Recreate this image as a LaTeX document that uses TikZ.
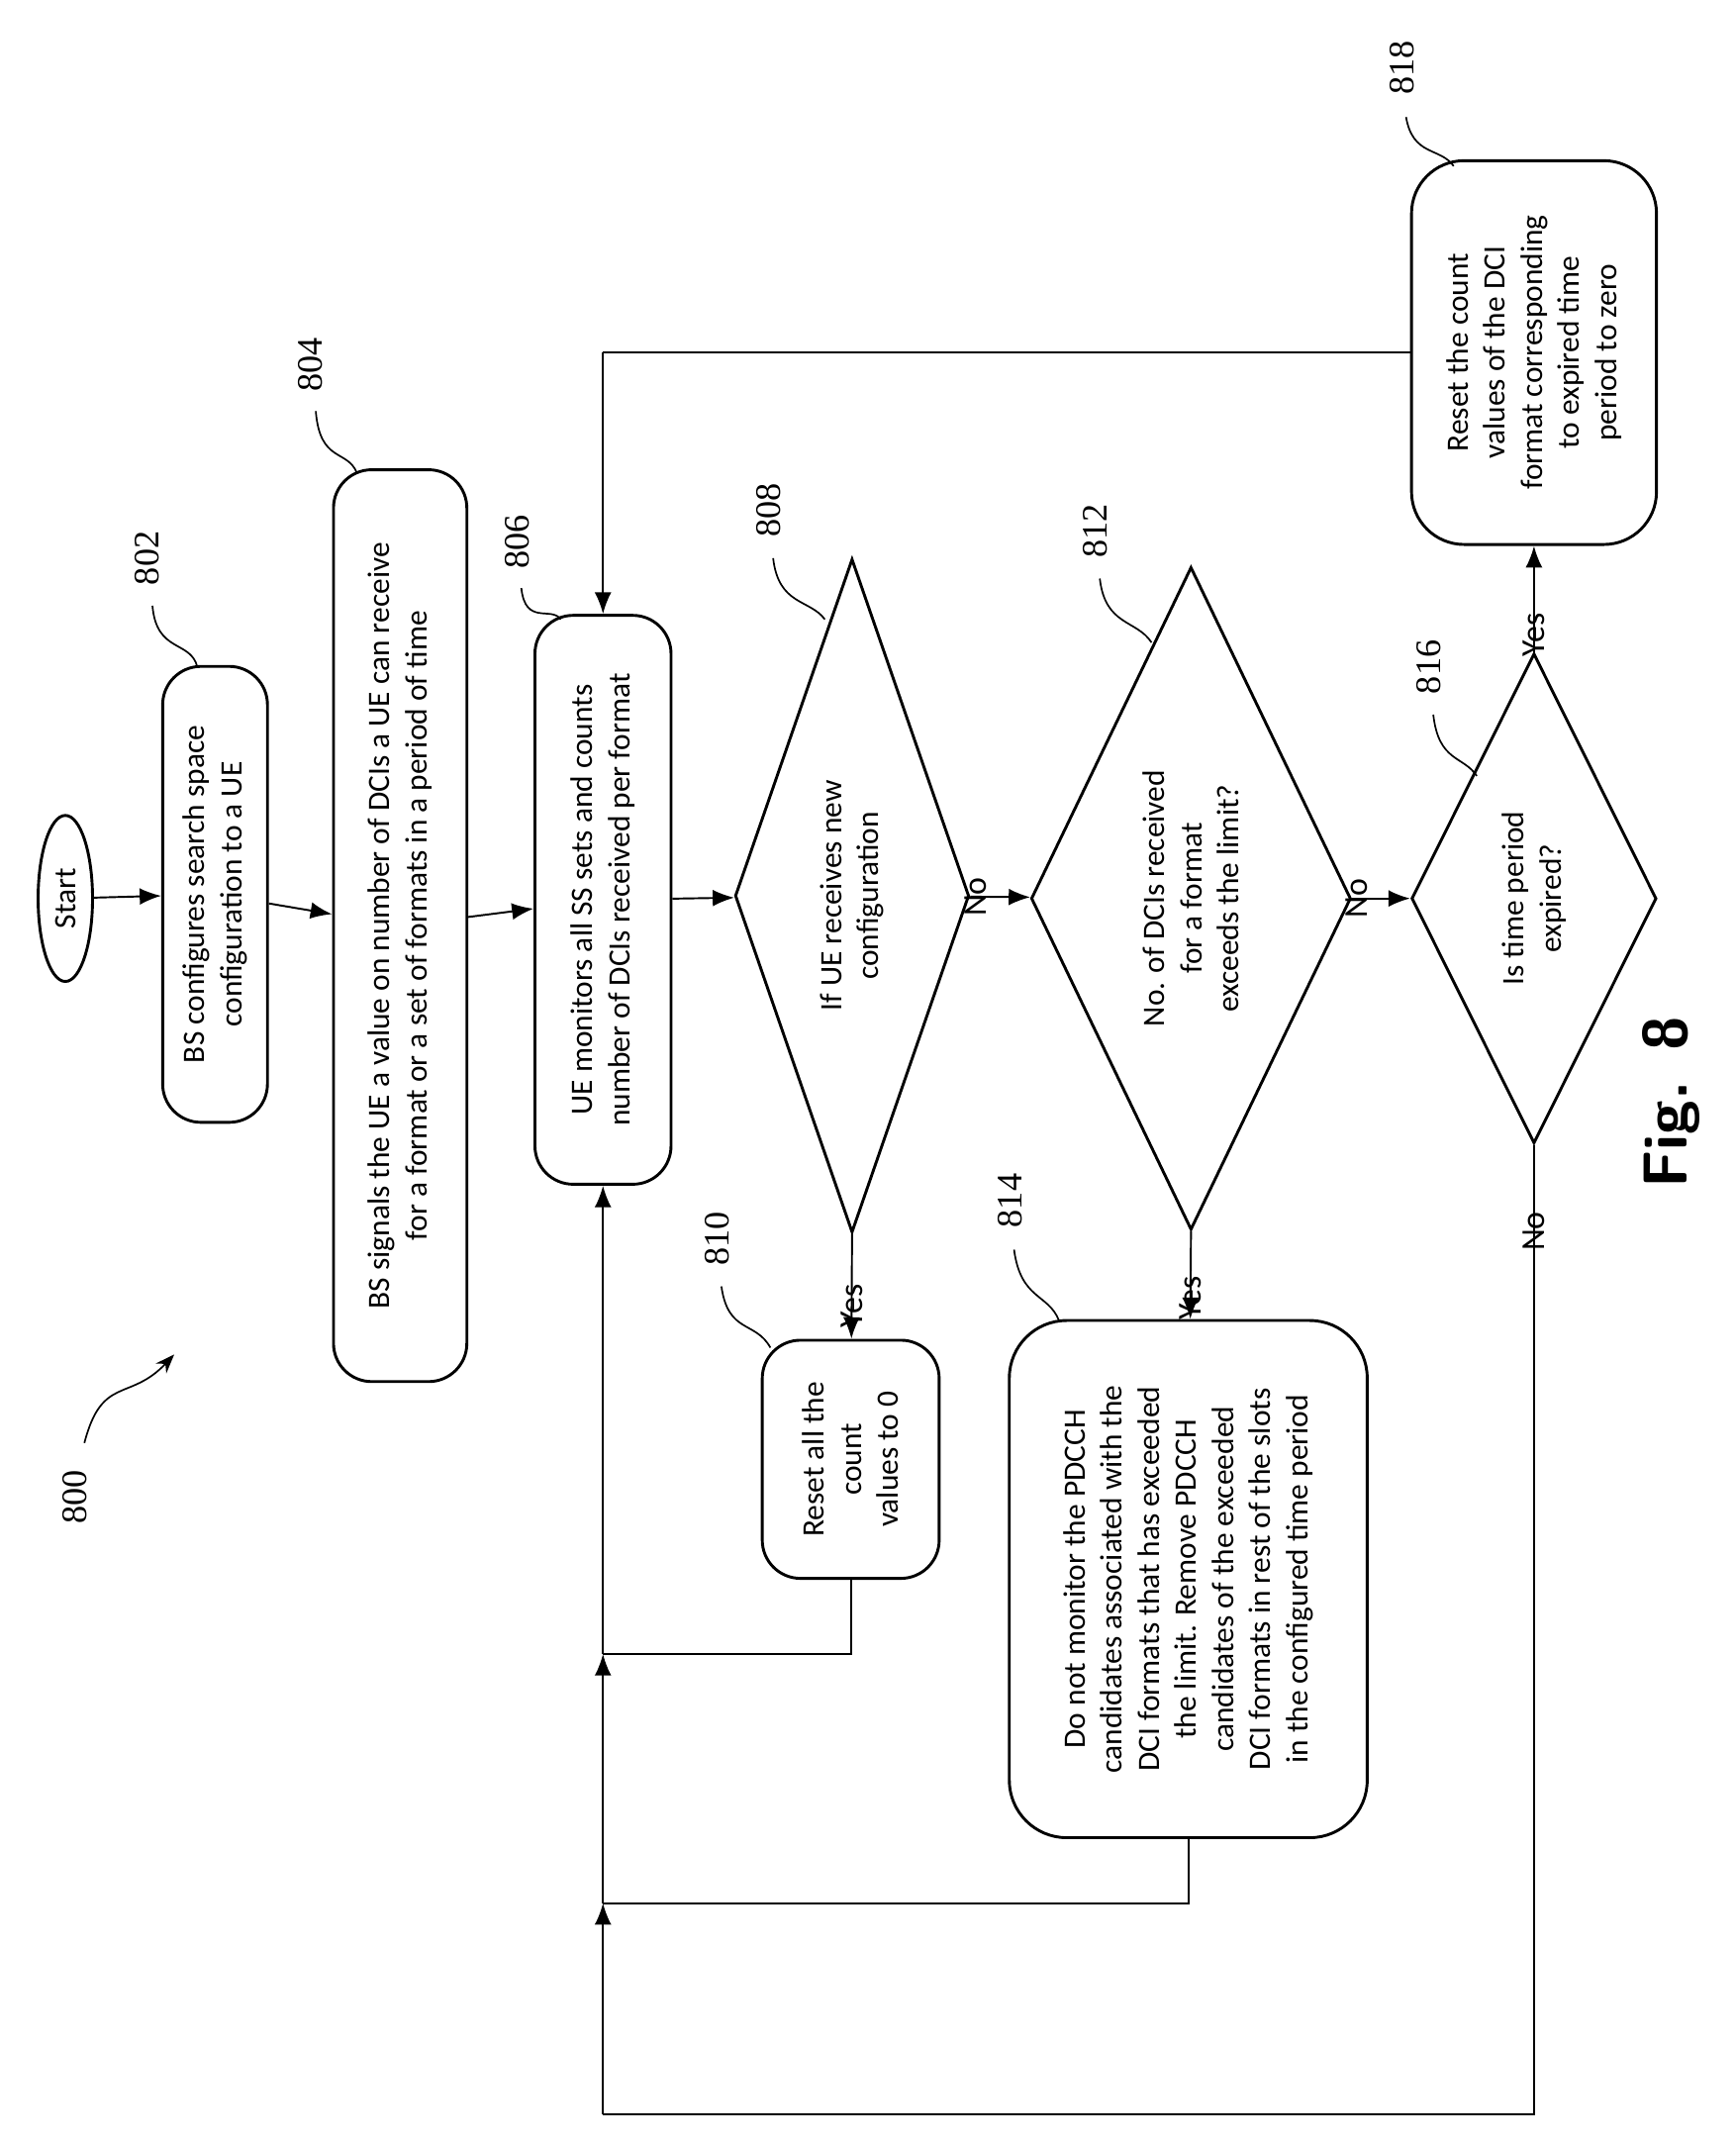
\documentclass[tikz,border=0pt]{standalone}
\usepackage{fontspec}
\setmainfont{Liberation Serif}
\newfontfamily\boxfont{Carlito}
\usetikzlibrary{shapes.geometric,arrows.meta}
\tikzset{
  box/.style={draw,line width=1.2pt,rounded corners=16pt,rotate=90,align=center,font=\boxfont\fontsize{13}{15.5}\selectfont},
  dec/.style={draw,line width=1.2pt,diamond,aspect=2.5,inner sep=0pt,rotate=90,align=center,font=\boxfont\fontsize{13}{15.5}\selectfont},
  flow/.style={line width=0.8pt,-{Latex[length=9pt,width=7pt]}},
  line/.style={line width=0.8pt},
  lbl/.style={rotate=90,font=\boxfont\fontsize{14}{16}\selectfont},
  num/.style={rotate=90,font=\fontsize{15}{17}\selectfont},
  lead/.style={line width=0.7pt}
}
\begin{document}
\begin{tikzpicture}[x=0.02cm,y=-0.02cm]
\useasboundingbox (0,0) rectangle (1275,1575);
% boxes and decisions
\node[draw,line width=1.2pt,ellipse,rotate=90,font=\boxfont\fontsize{13}{15.5}\selectfont,minimum width=2.44cm,minimum height=0.8cm] (start) at (48,660) {Start};
\node[box,minimum width=6.7cm,minimum height=1.54cm] (b802) at (158,657) {BS configures search space\\configuration to a UE};
\node[box,minimum width=13.4cm,minimum height=1.96cm] (b804) at (294,680) {BS signals the UE a value on number of DCIs a UE can receive\\for a format or a set of formats in a period of time};
\node[box,minimum width=8.36cm,minimum height=2cm] (b806) at (443,661) {UE monitors all SS sets and counts\\number of DCIs received per format};
\node[dec,minimum width=9.9cm,minimum height=3.44cm] (d808) at (626,658) {If UE receives new\\configuration};
\node[box,minimum width=3.5cm,minimum height=2.6cm] (b810) at (625,1072) {Reset all the\\count\\values to 0};
\node[dec,minimum width=9.74cm,minimum height=4.7cm] (d812) at (875,660) {No. of DCIs received\\for a format\\exceeds the limit?};
\node[box,rounded corners=24pt,minimum width=7.6cm,minimum height=5.26cm] (b814) at (873,1160) {Do not monitor the PDCCH\\candidates associated with the\\DCI formats that has exceeded\\the limit. Remove PDCCH\\candidates of the exceeded\\DCI formats in rest of the slots\\in the configured time period};
\node[dec,minimum width=7.2cm,minimum height=3.6cm] (d816) at (1127,660) {Is time period\\expired?};
\node[box,rounded corners=22pt,minimum width=5.64cm,minimum height=3.6cm] (b818) at (1127,259) {Reset the count\\values of the DCI\\format corresponding\\to expired time\\period to zero};
% main flow
\draw[flow] (start) -- (b802);
\draw[flow] (b802) -- (b804);
\draw[flow] (b804) -- (b806);
\draw[flow] (b806) -- (d808);
\draw[flow] (d808) -- node[lbl,above=2pt] {No} (d812);
\draw[flow] (d812) -- node[lbl,above=2pt] {No} (d816);
\draw[flow] (d816) -- node[lbl,left=2pt] {Yes} (b818);
\draw[flow] (d808.west) -- node[lbl,left=4pt,pos=0.3] {Yes} (b810);
\draw[flow] (d812.west) -- node[lbl,left=4pt,pos=0.3] {Yes} (b814);
% return paths
\coordinate (j1) at (443,1215);
\coordinate (j2) at (443,1398);
\coordinate (j3) at (443,1553);
\coordinate (top) at (443,259);
\draw[line] (b810.west) |- (j1);
\draw[line] (b814.west) |- (j2);
\draw[line] (d816.west) -- node[lbl,left=4pt,pos=0.05] {No} (1127,1553) -- (j3);
\draw[flow] (j3) -- (j2);
\draw[flow] (j2) -- (j1);
\draw[flow] (j1) -- (b806.west);
\draw[line] (b818.north) -- (top);
\draw[flow] (top) -- (b806.east);
% reference numerals
\node[num] (n800) at (55,1100) {800};
\node[num] (n802) at (108,410) {802};
\node[num] (n804) at (228,268) {804};
\node[num] (n806) at (380,398) {806};
\node[num] (n808) at (565,375) {808};
\node[num] (n810) at (527,910) {810};
\node[num] (n812) at (805,390) {812};
\node[num] (n814) at (742,882) {814};
\node[num] (n816) at (1050,490) {816};
\node[num] (n818) at (1030,50) {818};
\draw[lead,-{Stealth[length=8pt]}] (62,1060) .. controls (75,1010) and (95,1030) .. (128,995);
\draw[lead] (112,445) .. controls (115,480) and (140,470) .. (145,490);
\draw[lead] (232,302) .. controls (235,340) and (255,330) .. (262,347);
\draw[lead] (383,432) .. controls (386,460) and (405,445) .. (412,455);
\draw[lead] (568,410) .. controls (572,445) and (595,440) .. (606,455);
\draw[lead] (530,945) .. controls (535,980) and (555,970) .. (566,990);
\draw[lead] (808,425) .. controls (812,460) and (835,455) .. (846,472);
\draw[lead] (745,918) .. controls (750,955) and (770,950) .. (778,970);
\draw[lead] (1053,525) .. controls (1057,560) and (1075,555) .. (1085,570);
\draw[lead] (1033,86) .. controls (1038,115) and (1058,108) .. (1068,122);
\node[rotate=90,font=\sffamily\bfseries\fontsize{26}{30}\selectfont] (fig) at (1228,810) {Fig. 8};
\end{tikzpicture}
\end{document}
